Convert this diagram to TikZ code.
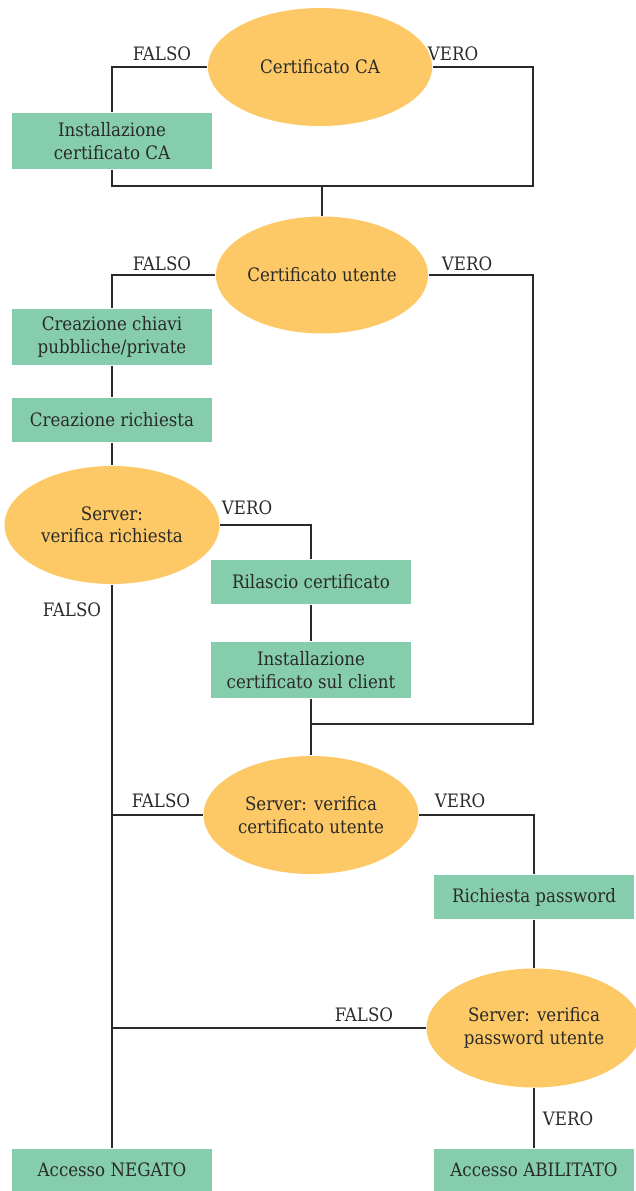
\documentclass[tikz,border=0pt]{standalone}
\usepackage{fontspec}
\setmainfont{DejaVu Serif Condensed}
\usetikzlibrary{shapes.geometric}
\definecolor{ovale}{HTML}{FDC966}
\definecolor{verde}{HTML}{86CDAD}
\definecolor{linea}{HTML}{2A2A2A}

\begin{document}
\begin{tikzpicture}[x=1pt,y=-1pt,line width=1.4pt,
	every node/.style={font=\fontsize{18.5}{22.5}\selectfont, text=linea, align=center},
	test/.style={ellipse, fill=ovale, inner sep=0pt, minimum width=215pt, minimum height=118pt},
	azione/.style={rectangle, fill=verde, inner sep=2pt, minimum width=200pt, minimum height=44pt},
	azione2/.style={azione, minimum height=56pt},
	esito/.style={inner sep=1pt},
	filo/.style={draw=linea}]
\useasboundingbox (0,0) rectangle (636,1191);

% decisioni
\node[test, minimum width=224pt] (ca) at (320,67) {Certificato CA};
\node[test, minimum width=212pt, minimum height=117pt] (ut) at (322,275) {Certificato utente};
\node[test] (srv) at (112,525) {Server:\\verifica richiesta};
\node[test] (srvcert) at (311,815) {Server: verifica\\certificato utente};
\node[test, minimum height=119pt] (srvpwd) at (534,1028) {Server: verifica\\password utente};

% azioni
\node[azione2] (inst) at (112,141) {Installazione\\certificato CA};
\node[azione2] (chiavi) at (112,337) {Creazione chiavi\\pubbliche/private};
\node[azione] (rich) at (112,420) {Creazione richiesta};
\node[azione] (ril) at (311,582) {Rilascio certificato};
\node[azione2] (instcl) at (311,670) {Installazione\\certificato sul client};
\node[azione] (pwd) at (534,897) {Richiesta password};
\node[azione, minimum height=42pt] (neg) at (112,1170) {Accesso NEGATO};
\node[azione, minimum height=42pt] (abil) at (534,1170) {Accesso ABILITATO};

% punti di giunzione
\coordinate (j1) at (322,186);
\coordinate (r1) at (533,186);
\coordinate (r2) at (533,724);

% collegamenti
\draw[filo] (ca.west) -| (inst.north);
\draw[filo] (inst.south) |- (j1);
\draw[filo] (ca.east) -| (r1) -- (j1) -- (ut.north);
\draw[filo] (ut.west) -| (chiavi.north);
\draw[filo] (chiavi) -- (rich);
\draw[filo] (rich) -- (srv);
\draw[filo] (ut.east) -| (r2) -- (instcl.south |- r2);
\draw[filo] (srv.east) -| (ril.north);
\draw[filo] (ril) -- (instcl);
\draw[filo] (instcl) -- (srvcert);
\draw[filo] (srv) -- (neg);
\draw[filo] (srvcert.west) -- (srvcert.west -| neg.north);
\draw[filo] (srvcert.east) -| (pwd.north);
\draw[filo] (pwd) -- (srvpwd);
\draw[filo] (srvpwd.west) -- (srvpwd.west -| neg.north);
\draw[filo] (srvpwd) -- (abil);

% etichette
\node[esito] (f1) at (162,54) {FALSO};
\node[esito] (v1) at (453,54) {VERO};
\node[esito] (f2) at (162,264) {FALSO};
\node[esito] (v2) at (467,264) {VERO};
\node[esito] (v3) at (247,508) {VERO};
\node[esito] (f3) at (72,610) {FALSO};
\node[esito] (f4) at (161,801) {FALSO};
\node[esito] (v4) at (460,801) {VERO};
\node[esito] (f5) at (364,1015) {FALSO};
\node[esito] (v5) at (568,1119) {VERO};
\end{tikzpicture}
\end{document}
